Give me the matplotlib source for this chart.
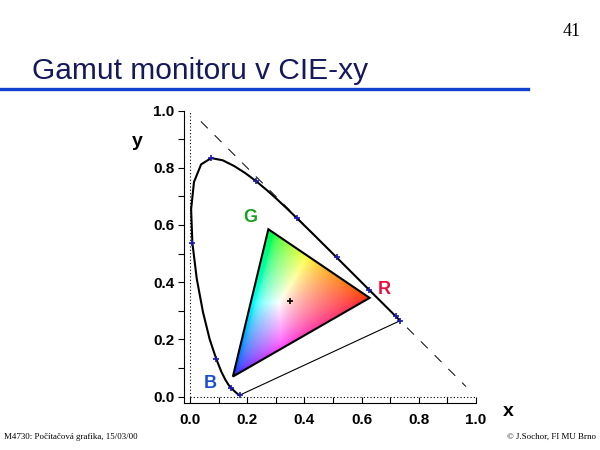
import numpy as np
import matplotlib.pyplot as plt
from matplotlib.patches import Polygon

# CIE 1931 spectral locus (x, y), 380-700 nm
wavelengths = [380, 420, 440, 450, 460, 465, 470, 475, 480, 485, 490, 495, 500,
               505, 510, 515, 520, 525, 530, 535, 540, 545, 550, 555, 560, 565,
               570, 575, 580, 585, 590, 595, 600, 605, 610, 620, 630, 640, 650,
               660, 680, 700]
locus_x = [0.1741, 0.1714, 0.1644, 0.1566, 0.1440, 0.1355, 0.1241, 0.1096, 0.0913,
           0.0687, 0.0454, 0.0235, 0.0082, 0.0039, 0.0139, 0.0389, 0.0743, 0.1142,
           0.1547, 0.1929, 0.2296, 0.2658, 0.3016, 0.3373, 0.3731, 0.4087, 0.4441,
           0.4788, 0.5125, 0.5448, 0.5752, 0.6029, 0.6270, 0.6482, 0.6658, 0.6915,
           0.7079, 0.7190, 0.7260, 0.7300, 0.7334, 0.7347]
locus_y = [0.0050, 0.0051, 0.0109, 0.0177, 0.0297, 0.0399, 0.0578, 0.0868, 0.1327,
           0.2007, 0.2950, 0.4127, 0.5384, 0.6548, 0.7502, 0.8120, 0.8338, 0.8262,
           0.8059, 0.7816, 0.7543, 0.7243, 0.6923, 0.6589, 0.6245, 0.5896, 0.5547,
           0.5202, 0.4866, 0.4544, 0.4242, 0.3965, 0.3725, 0.3514, 0.3340, 0.3083,
           0.2920, 0.2809, 0.2740, 0.2700, 0.2666, 0.2653]
marked_nm = [380, 460, 480, 500, 520, 540, 560, 580, 600, 640, 700]

# monitor primaries and white point
prim_names = ['R', 'G', 'B']
prim_x = [0.628, 0.274, 0.150]
prim_y = [0.345, 0.585, 0.070]
white = (0.35, 0.334)

label_x = [0.68, 0.21, 0.07]
label_y = [0.375, 0.625, 0.045]
label_col = ['#e8103a', '#19a019', '#1a4fd0']

ticks = [0.0, 0.2, 0.4, 0.6, 0.8, 1.0]

fig = plt.figure(figsize=(6, 4.5), dpi=100)
plt.rcParams['font.family'] = ['Liberation Sans', 'DejaVu Sans']

ax = fig.add_axes([184 / 600, 1 - 404 / 450, 292 / 600, 294 / 450])
ax.set_xlim(-0.021, 1.0)
ax.set_ylim(-0.024, 1.0)

# triangle gradient fill
n = 300
gx, gy = np.meshgrid(np.linspace(0, 1, n), np.linspace(0, 1, n))
gy_safe = np.where(gy < 1e-3, 1e-3, gy)
X = gx / gy_safe
Y = np.ones_like(gx)
Z = (1 - gx - gy) / gy_safe
M = np.array([[3.2406, -1.5372, -0.4986],
              [-0.9689, 1.8758, 0.0415],
              [0.0557, -0.2040, 1.0570]])
rgb = np.stack([X, Y, Z], axis=-1) @ M.T
rgb = np.clip(rgb, 0, None)
rgb = rgb / np.maximum(rgb.max(axis=-1, keepdims=True), 1e-6)
rgb = np.where(rgb <= 0.0031308, 12.92 * rgb, 1.055 * rgb ** (1 / 2.4) - 0.055)
rgb = np.clip(rgb, 0, 1)
img = ax.imshow(rgb, origin='lower', extent=(0, 1, 0, 1), interpolation='bilinear', zorder=1)
tri = Polygon(list(zip(prim_x, prim_y)), closed=True, transform=ax.transData)
img.set_clip_path(tri)
ax.add_patch(Polygon(list(zip(prim_x, prim_y)), closed=True, fill=False,
                     edgecolor='black', lw=1.5, zorder=3))

ax.plot(*white, marker='+', color='black', ms=4, mew=1.2, zorder=4)

# spectral locus and purple line
ax.plot(locus_x, locus_y, color='black', lw=1.5, zorder=3)
ax.plot([locus_x[0], locus_x[-1]], [locus_y[0], locus_y[-1]], color='black', lw=0.8, zorder=3)
mx = [locus_x[wavelengths.index(w)] for w in marked_nm]
my = [locus_y[wavelengths.index(w)] for w in marked_nm]
ax.plot(mx, my, ls='none', marker='+', color='#1a1ab0', ms=5, mew=1.2, zorder=4)

# reference lines
ax.plot([0.038, 0.965], [0.962, 0.035], color='black', lw=0.7, ls=(0, (10, 10)), zorder=2)
ax.plot([0, 0], [0, 1], color='black', lw=0.8, ls=(0, (1, 2)), zorder=2)
ax.plot([0, 1], [0, 0], color='black', lw=0.8, ls=(0, (1, 2)), zorder=2)

for name, lx, ly, c in zip(prim_names, label_x, label_y, label_col):
    ax.text(lx, ly, name, color=c, fontsize=13, fontweight='bold', ha='center', va='center')

ax.spines['top'].set_visible(False)
ax.spines['right'].set_visible(False)
ax.set_xticks(ticks)
ax.set_yticks(ticks)
ax.set_xticklabels([f'{t:.1f}' for t in ticks], fontweight='bold')
ax.set_yticklabels([f'{t:.1f}' for t in ticks], fontweight='bold')
ax.set_xticks([0.1, 0.3, 0.5, 0.7, 0.9], minor=True)
ax.set_yticks([0.1, 0.3, 0.5, 0.7, 0.9], minor=True)
ax.tick_params(which='both', length=4, width=0.8, labelsize=11)
ax.tick_params(axis='y', which='both', direction='out', pad=3)
ax.tick_params(axis='x', which='both', direction='in', pad=7)

fig.text(137 / 600, 1 - 141 / 450, 'y', fontsize=14, fontweight='bold', ha='center', va='center')
fig.text(508 / 600, 1 - 411 / 450, 'x', fontsize=14, fontweight='bold', ha='center', va='center')

# slide decorations
fig.text(32 / 600, 1 - 71 / 450, 'Gamut monitoru v CIE-xy', fontsize=21.5, color='#15185a',
         ha='left', va='center')
fig.add_artist(plt.Line2D([0, 528 / 600], [1 - 89 / 450] * 2, color='#1040d0', lw=2.4))
fig.text(572 / 600, 1 - 32 / 450, '41', fontsize=13, family='Liberation Serif',
         ha='center', va='center')
fig.text(4 / 600, 1 - 437 / 450, 'M4730: Počítačová grafika, 15/03/00', fontsize=6.4,
         family='Liberation Serif', ha='left', va='center')
fig.text(596 / 600, 1 - 437 / 450, '© J.Sochor, FI MU Brno', fontsize=6.4,
         family='Liberation Serif', ha='right', va='center')

fig.savefig('out.png', dpi=100)
